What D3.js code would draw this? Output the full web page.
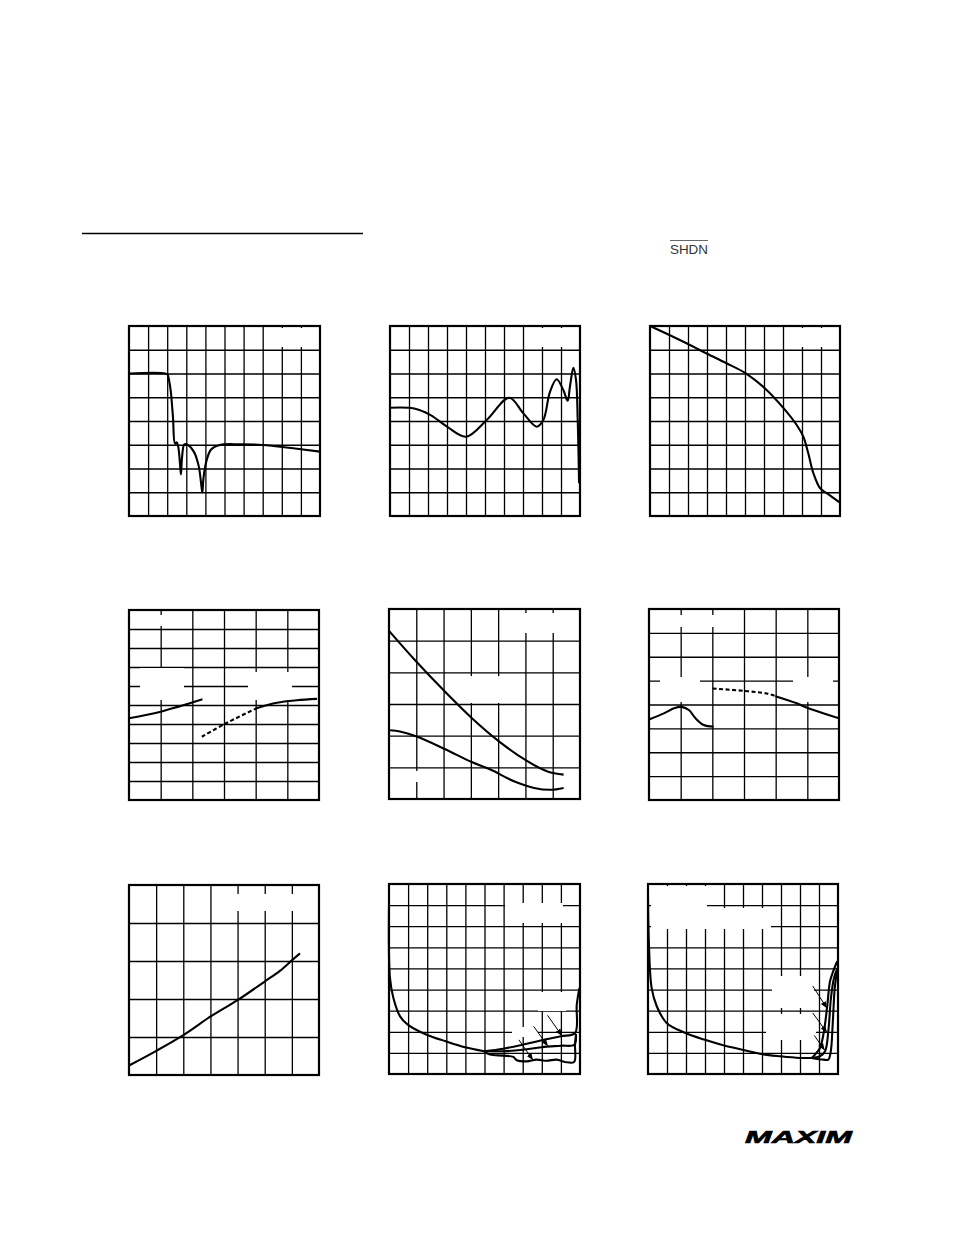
<!DOCTYPE html>
<html><head><meta charset="utf-8">
<script src="https://cdn.jsdelivr.net/npm/d3@7"></script>
<style>body{margin:0;background:#fff}svg{display:block}</style>
</head><body>
<script>
// ---- data (grid units: x = columns from left, y = rows from bottom) ----
const p1Curve = [[0,6],[1.9,6],[2.02,5.95],[2.1,5.7],[2.18,5.3],[2.3,4.2],[2.41,3.05],[2.5,3.1],[2.58,2.9],[2.66,2.3],[2.72,1.75],[2.78,2.5],[2.9,3.02],[3.1,2.98],[3.4,2.7],[3.65,2.1],[3.8,1.2],[3.84,1.0],[3.9,1.6],[4.05,2.3],[4.3,2.8],[4.76,2.99],[5.8,3.02],[7.0,2.99],[8.5,2.86],[10,2.71]];
const p2Curve = [[0,4.56],[1.27,4.53],[2.14,4.25],[3.0,3.76],[4.0,3.34],[5.09,4.04],[6.28,4.98],[7.02,4.32],[7.72,3.76],[8.07,4.04],[8.42,5.23],[8.77,5.76],[9.12,5.31],[9.35,4.85],[9.47,5.44],[9.65,6.24],[9.79,5.73],[9.88,4.04],[9.95,1.38]];
const p3Curve = [[0,8.0],[1.02,7.62],[2.0,7.24],[2.98,6.84],[4.0,6.44],[5.04,6.01],[6.04,5.38],[7.04,4.53],[7.72,3.83],[8.07,3.34],[8.33,2.64],[8.6,1.8],[8.95,1.17],[9.3,0.96],[10,0.56]];
const p4SolidA = [[0,4.3],[1,4.65],[2.32,5.3]];
const p4Dashed = [[2.3,3.33],[3.02,4.0],[4.03,4.83]];
const p4SolidB = [[4.03,4.83],[4.67,5.12],[5.3,5.25],[5.94,5.32]];
const p5Upper = [[0,5.31],[0.99,4.35],[2.04,3.4],[3.03,2.56],[4.03,1.82],[5.04,1.21],[5.81,0.87],[6.4,0.77]];
const p5Lower = [[0.04,2.17],[0.4,2.13],[0.99,1.98],[2.04,1.58],[3.03,1.17],[3.72,0.93],[4.58,0.56],[5.32,0.35],[5.92,0.29],[6.4,0.35]];
const p6SolidA = [[0.02,3.38],[0.47,3.63],[0.79,3.84],[1.02,3.9],[1.26,3.77],[1.47,3.42],[1.73,3.14],[2.04,3.07]];
const p6Dashed = [[2.01,4.67],[3.0,4.57],[3.72,4.46],[3.99,4.35]];
const p6SolidB = [[3.99,4.35],[4.67,4.05],[4.99,3.86],[6.0,3.42]];
const p7Curve = [[0,0.25],[0.99,0.63],[2.0,1.05],[3.01,1.54],[4.0,1.97],[5.0,2.46],[5.56,2.74],[6.02,3.03],[6.3,3.2]];
const p8Common = [[0,8.02],[0.05,4.55],[0.23,3.6],[0.58,2.73],[0.98,2.34],[1.97,1.86],[2.97,1.55],[3.98,1.27],[4.99,1.08]];
const p8A = [[4.99,1.08],[5.98,1.2],[7.0,1.39],[7.99,1.6],[9.0,1.79],[9.74,1.94],[9.83,3.28],[9.97,4.08]];
const p8B = [[4.99,1.08],[5.98,1.08],[7.0,1.15],[7.99,1.27],[9.0,1.34],[9.7,1.39],[9.79,1.86]];
const p8C = [[4.99,1.06],[5.29,0.92],[5.98,0.87],[6.51,0.81],[6.69,0.65],[7.21,0.6],[7.73,0.68],[8.25,0.63],[8.78,0.68],[9.21,0.57],[9.69,0.57],[9.74,1.39],[9.79,1.9]];
const p9Common = [[0,8.34],[0.05,6.13],[0.19,4.08],[0.46,3.21],[0.98,2.42],[1.98,1.94],[2.96,1.63],[3.96,1.36],[4.96,1.15],[5.96,0.95],[6.96,0.84],[7.98,0.76],[8.61,0.76]];
const p9A = [[8.61,0.76],[8.79,0.92],[9.05,1.23],[9.26,2.02],[9.44,3.28],[9.58,4.39],[9.75,4.87],[9.96,5.34]];
const p9B = [[8.61,0.76],[9.05,0.84],[9.32,1.08],[9.49,2.02],[9.63,3.6],[9.79,4.55],[9.98,5.02]];
const p9C = [[8.61,0.76],[9.23,0.68],[9.49,0.68],[9.62,1.08],[9.72,2.34],[9.83,4.08],[9.96,4.94]];
const p8Arrows = [[[8.3,2.78],[9.04,1.83]],[[7.57,2.26],[8.3,1.34]],[[6.8,1.62],[7.52,0.68]]];
const p9Arrows = [[[8.67,4.17],[9.4,3.14]],[[8.67,2.89],[9.4,1.99]],[[8.75,1.83],[9.28,1.15]]];

// ---- layout ----
const W = 954, H = 1235;
const svg = d3.select("body").append("svg").attr("width", W).attr("height", H);
const defs = svg.append("defs");
defs.append("marker").attr("id","ah").attr("viewBox","0 0 10 10").attr("refX",9).attr("refY",5)
  .attr("markerWidth",7).attr("markerHeight",7).attr("orient","auto-start-reverse")
  .append("path").attr("d","M0,1 L10,5 L0,9 Z").attr("fill","#000");

const panels = [
 {x0:129,y0:326,w:191,h:190,cols:10,rows:8, masks:[[277,328,32,19]],
  lines:[{d:p1Curve}]},
 {x0:390,y0:326,w:190,h:190,cols:10,rows:8, masks:[[537,328,31,19]],
  lines:[{d:p2Curve}]},
 {x0:650,y0:326,w:190,h:190,cols:10,rows:8, masks:[[797,328,31,19]],
  lines:[{d:p3Curve}]},
 {x0:129,y0:610,w:190,h:190,cols:6,rows:10, masks:[[140,615,44,11],[140,668,44,32],[248,672,44,28]],
  lines:[{d:p4SolidA},{d:p4Dashed,dash:true},{d:p4SolidB}]},
 {x0:389,y0:609,w:191,h:190,cols:7,rows:6, masks:[[520,613,38,20],[455,676,65,27],[400,771,38,11]],
  lines:[{d:p5Upper},{d:p5Lower}]},
 {x0:649,y0:609,w:190,h:191,cols:6,rows:8, masks:[[658,615,62,12],[660,677,40,25],[793,677,40,25]],
  lines:[{d:p6SolidA},{d:p6Dashed,dash:true},{d:p6SolidB}]},
 {x0:129,y0:885,w:190,h:190,cols:7,rows:5, masks:[[233,894,64,17]],
  lines:[{d:p7Curve}]},
 {x0:389,y0:884,w:191,h:190,cols:10,rows:9, masks:[[505,903,58,20],[538,992,28,19],[512,1027,26,10]],
  lines:[{d:p8Common},{d:p8A},{d:p8B},{d:p8C}], arrows:p8Arrows},
 {x0:648,y0:884,w:190,h:190,cols:10,rows:9, masks:[[651,886,56,40],[651,908,120,21],[772,976,42,32],[766,1014,50,26]],
  lines:[{d:p9Common},{d:p9A},{d:p9B},{d:p9C}], arrows:p9Arrows}
];

panels.forEach(p => {
  const g = svg.append("g");
  const x = d3.scaleLinear().domain([0,p.cols]).range([p.x0,p.x0+p.w]);
  const y = d3.scaleLinear().domain([0,p.rows]).range([p.y0+p.h,p.y0]);
  const gx = g.append("g").attr("transform",`translate(0,${p.y0+p.h})`)
    .call(d3.axisBottom(x).tickValues(d3.range(1,p.cols)).tickSize(-p.h).tickFormat(""));
  const gy = g.append("g").attr("transform",`translate(${p.x0},0)`)
    .call(d3.axisLeft(y).tickValues(d3.range(1,p.rows)).tickSize(-p.w).tickFormat(""));
  [gx,gy].forEach(a=>{a.select(".domain").remove();a.selectAll("line").attr("stroke","#000").attr("stroke-width",1.3);});
  (p.masks||[]).forEach(m=>g.append("rect").attr("x",m[0]).attr("y",m[1]).attr("width",m[2]).attr("height",m[3]).attr("fill","#fff"));
  const line = d3.line().x(d=>x(d[0])).y(d=>y(d[1])).curve(d3.curveCatmullRom.alpha(0.5));
  p.lines.forEach(l=>{
    g.append("path").attr("d",line(l.d)).attr("fill","none").attr("stroke","#000")
     .attr("stroke-width",2.1).attr("stroke-linejoin","round")
     .attr("stroke-dasharray",l.dash?"4,2.5":null);
  });
  (p.arrows||[]).forEach(a=>{
    g.append("line").attr("x1",x(a[0][0])).attr("y1",y(a[0][1])).attr("x2",x(a[1][0])).attr("y2",y(a[1][1]))
     .attr("stroke","#000").attr("stroke-width",1).attr("marker-end","url(#ah)");
  });
  g.append("rect").attr("x",p.x0).attr("y",p.y0).attr("width",p.w).attr("height",p.h)
   .attr("fill","none").attr("stroke","#000").attr("stroke-width",2.2);
});

// header rule
svg.append("line").attr("x1",82).attr("x2",363).attr("y1",233.5).attr("y2",233.5).attr("stroke","#000").attr("stroke-width",1.4);
// SHDN with overline
svg.append("text").attr("x",670).attr("y",253.5).attr("font-family","Liberation Sans, Arial, sans-serif")
  .attr("font-size",12).attr("textLength",38).attr("lengthAdjust","spacingAndGlyphs").attr("fill","#333").text("SHDN");
svg.append("line").attr("x1",670).attr("x2",708).attr("y1",240.5).attr("y2",240.5).attr("stroke","#555").attr("stroke-width",0.9);
// logo
svg.append("text").attr("x",745).attr("y",1143).attr("font-family","Liberation Sans, Arial, sans-serif")
  .attr("font-weight","bold").attr("font-style","italic").attr("font-size",17)
  .attr("stroke","#000").attr("stroke-width",0.6)
  .attr("textLength",107).attr("lengthAdjust","spacingAndGlyphs").attr("fill","#000").text("MAXIM");
</script>
</body></html>
